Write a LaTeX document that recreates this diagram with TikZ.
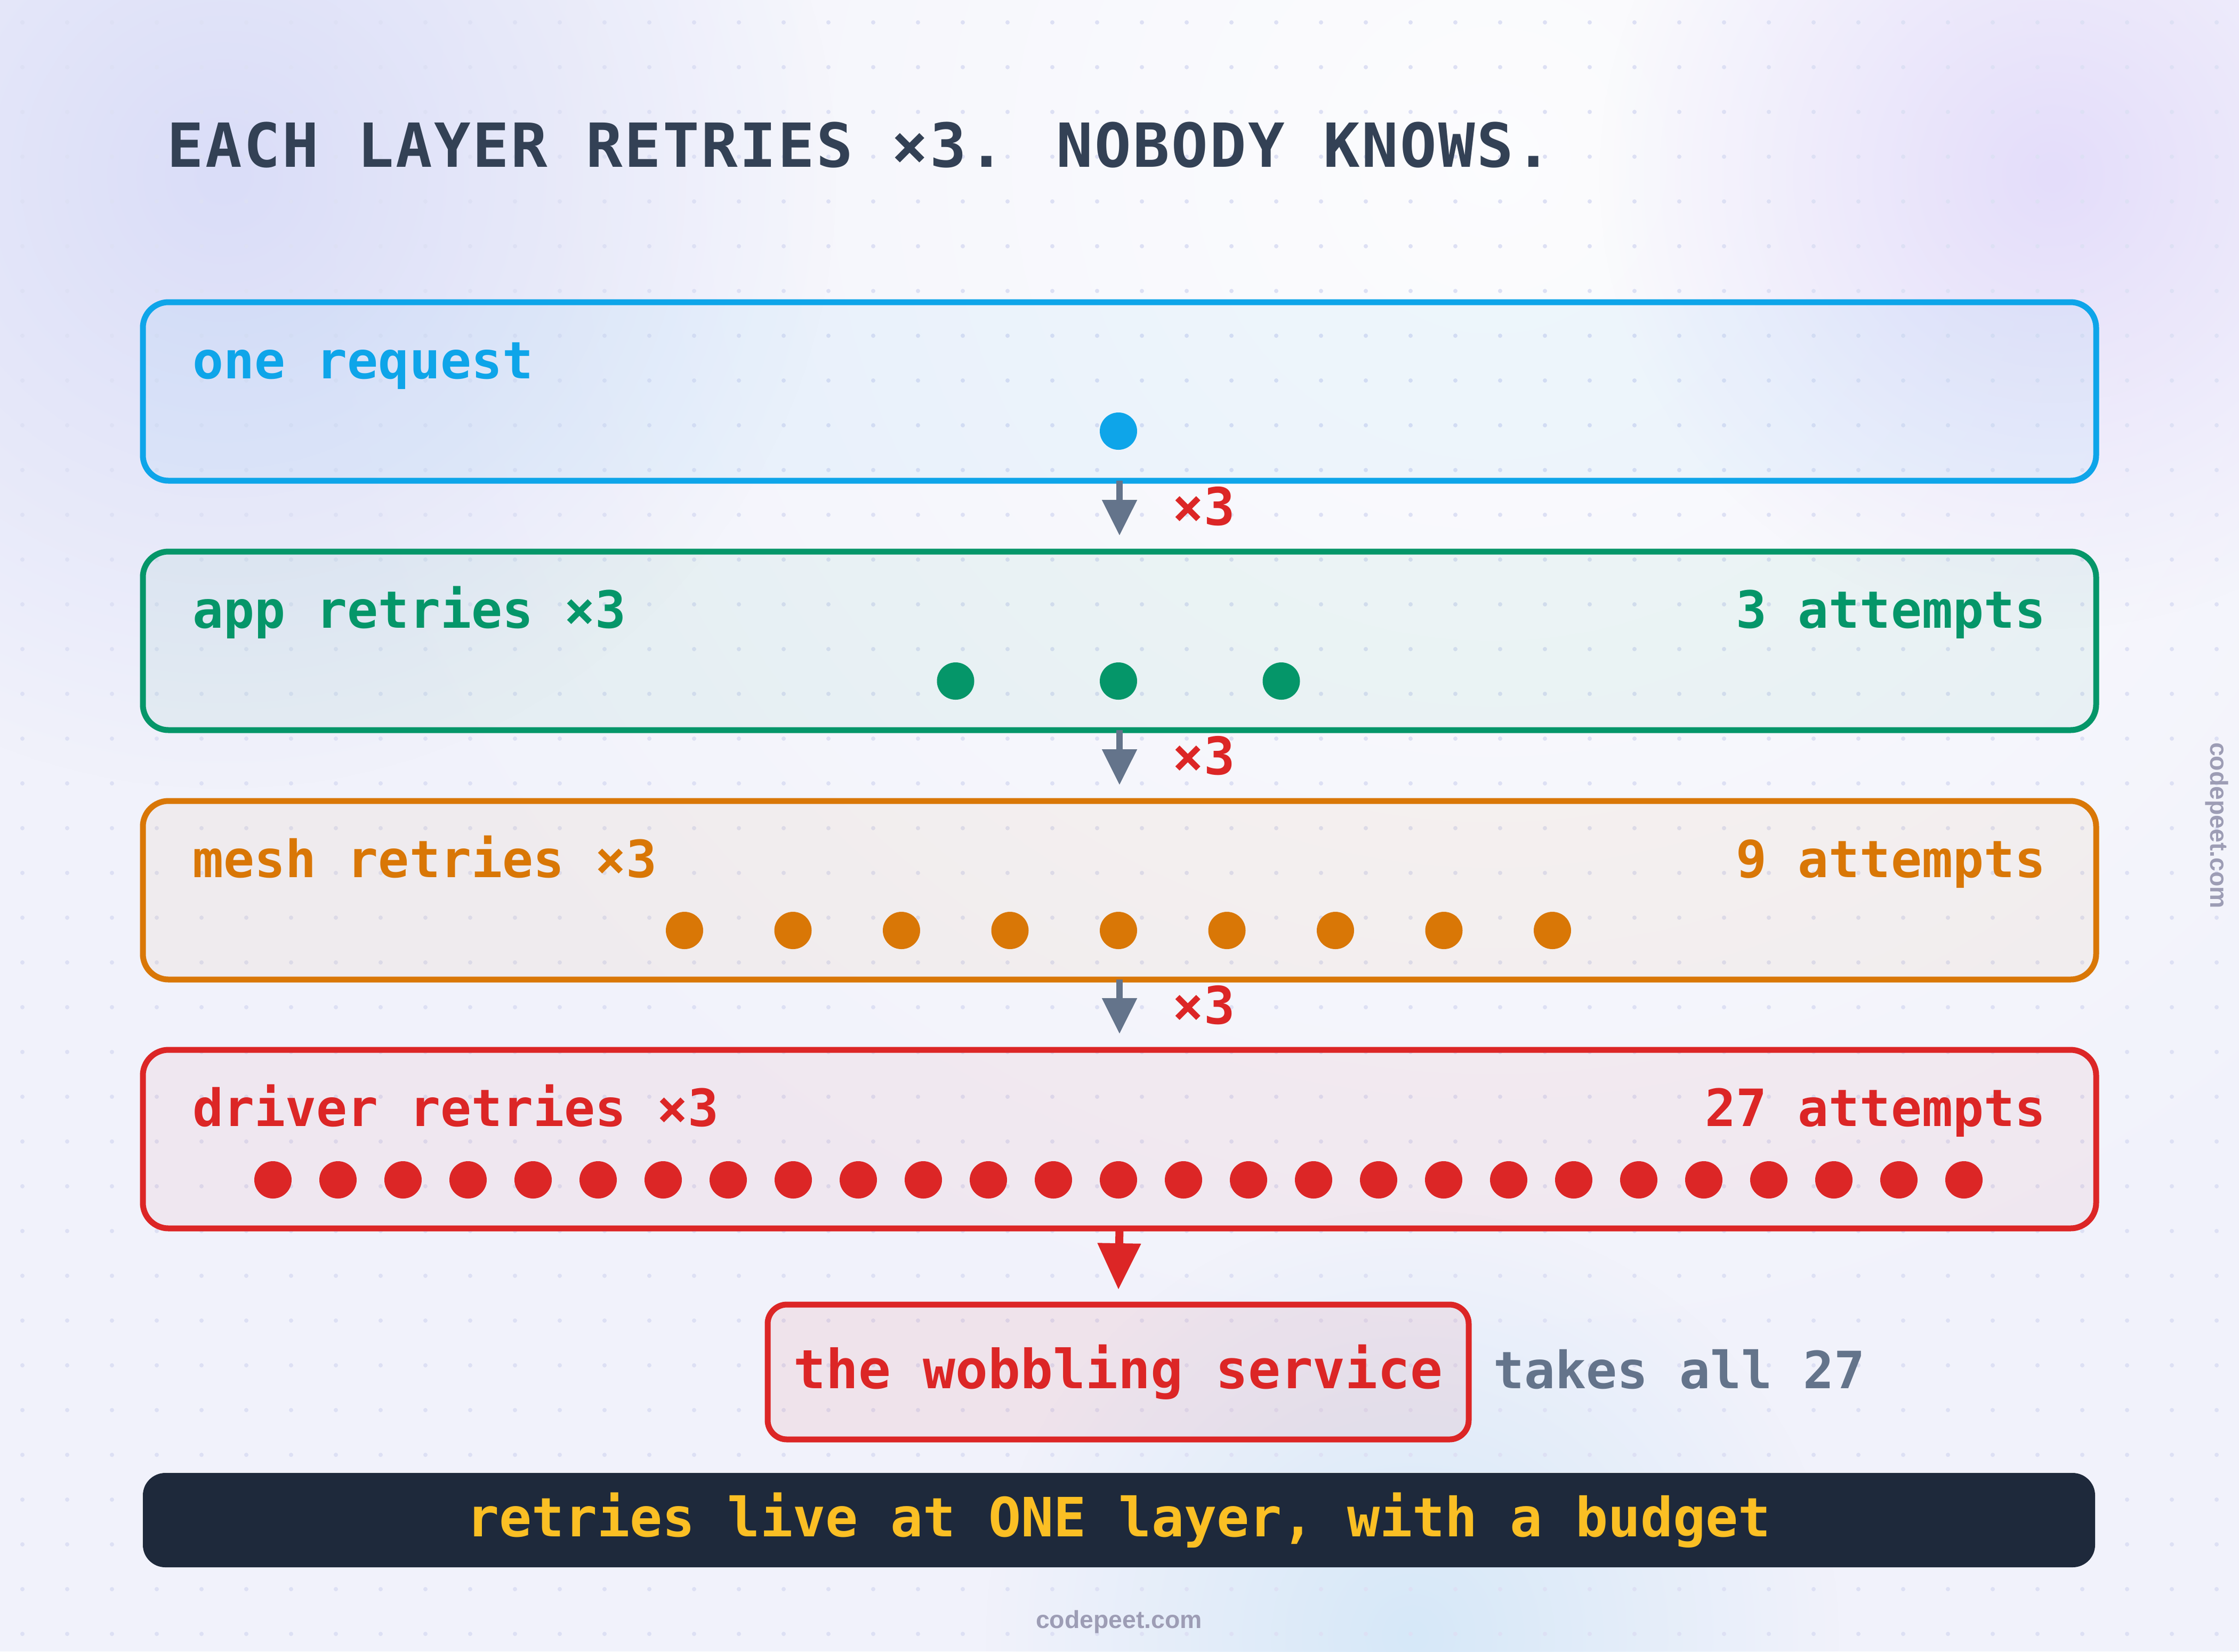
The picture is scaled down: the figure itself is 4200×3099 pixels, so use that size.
\documentclass[tikz,border=0pt]{standalone}
\usepackage{fontspec}
\setmainfont{DejaVu Sans Mono}
\newfontfamily\titlefont[LetterSpace=3.0]{DejaVu Sans Mono}
\newfontfamily\wmfont{Liberation Sans}
\usetikzlibrary{arrows.meta,fadings}
\definecolor{bgc}{HTML}{F1F2FB}
\definecolor{dotc}{HTML}{DDE0F4}
\definecolor{titlec}{HTML}{334155}
\definecolor{cblue}{HTML}{0EA5E9}
\definecolor{cgreen}{HTML}{059669}
\definecolor{corange}{HTML}{D97706}
\definecolor{cred}{HTML}{DC2626}
\definecolor{cslate}{HTML}{64748B}
\definecolor{cdark}{HTML}{1E293B}
\definecolor{cyellow}{HTML}{FBBF24}
\definecolor{cwm}{HTML}{9D9DB5}
\definecolor{blobl}{HTML}{DADDF8}
\definecolor{blobp}{HTML}{E4DDFA}
\definecolor{blobb}{HTML}{D6E8F8}
\tikzfading[name=softblob, inner color=transparent!0, outer color=transparent!100]
\tikzset{
  layerbox/.style={draw=#1, line width=2.75pt, rounded corners=12pt, fill=#1, fill opacity=0.05,
    minimum width=916pt, minimum height=83.75pt, inner sep=0pt, outer sep=0pt},
  lbl/.style={font=\bfseries\fontsize{24.1pt}{29pt}\selectfont, text=#1, inner sep=0pt},
  mult/.style={font=\bfseries\fontsize{24.3pt}{30pt}\selectfont, text=cred, inner sep=0pt, anchor=base west},
  flow/.style={draw=cslate, line width=3pt, -{Triangle[length=16.75pt,width=15.75pt]}, shorten >=7.5pt},
  redflow/.style={draw=cred, line width=3.75pt, -{Triangle[length=21.75pt,width=19.5pt]}, shorten >=7pt},
  wm/.style={font=\wmfont\bfseries\fontsize{11.6pt}{14pt}\selectfont, text=cwm, inner sep=0pt},
}
\begin{document}
\begin{tikzpicture}[x=0.25pt,y=-0.25pt]
\useasboundingbox (0,0) rectangle (4200,3099);
\fill[bgc] (0,0) rectangle (4200,3099);
% soft background blobs
\fill[white, opacity=0.8, path fading=softblob] (2800,300) circle (2400);
\fill[blobl, path fading=softblob] (420,330) circle (1150);
\fill[blobp, path fading=softblob] (3850,330) circle (850);
\fill[blobb, path fading=softblob] (2650,3070) circle (800);
% dot grid
\foreach \i in {0,...,49} {
  \foreach \j in {0,...,36} {
    \fill[dotc] (42+84*\i, 42+84*\j) circle (4);
  }
}
% title
\node[anchor=base west, inner sep=0pt, text=titlec, font=\titlefont\bfseries\fontsize{28.5pt}{34pt}\selectfont] (title) at (313,313) {EACH LAYER RETRIES ×3. NOBODY KNOWS.};
% layer boxes
\node[layerbox=cblue]   (L1) at (2100,734.5) {};
\node[layerbox=cgreen]  (L2) at (2100,1202.5) {};
\node[layerbox=corange] (L3) at (2100,1670.5) {};
\node[layerbox=cred]    (L4) at (2100,2137.5) {};
% labels
\node[lbl=cblue, anchor=base west] (t1) at (361,710) {one request};
\node[lbl=cgreen, anchor=base west] (t2) at (361,1178) {app retries ×3};
\node[lbl=cgreen, anchor=base east] (a2) at (3838,1178) {3 attempts};
\node[lbl=corange, anchor=base west] (t3) at (361,1646) {mesh retries ×3};
\node[lbl=corange, anchor=base east] (a3) at (3838,1646) {9 attempts};
\node[lbl=cred, anchor=base west] (t4) at (361,2113) {driver retries ×3};
\node[lbl=cred, anchor=base east] (a4) at (3838,2113) {27 attempts};
% dots
\fill[cblue] (2098,809) circle (35);
\foreach \k in {-1,...,1} \fill[cgreen] (2098+305.5*\k,1278) circle (35);
\foreach \k in {-4,...,4} \fill[corange] (2098+203.5*\k,1746) circle (35);
\foreach \k in {-13,...,13} \fill[cred] (2098+122*\k,2214) circle (35);
% arrows
\draw[flow] (L1.south) -- (L2.north);
\draw[flow] (L2.south) -- (L3.north);
\draw[flow] (L3.south) -- (L4.north);
\node[mult] (m1) at (2199,985) {×3};
\node[mult] (m2) at (2199,1453) {×3};
\node[mult] (m3) at (2199,1921) {×3};
% service
\node[draw=cred, line width=2.75pt, rounded corners=9pt, fill=cred, fill opacity=0.07, text opacity=1,
  minimum width=328.75pt, minimum height=63.25pt, inner sep=0pt, outer sep=0pt, text=cred,
  font=\bfseries\fontsize{25.3pt}{30pt}\selectfont] (svc) at (2097.5,2574.5) {the wobbling service};
\draw[redflow] (L4.south) -- (svc.north);
\node[lbl=cslate, anchor=base west] (takes) at (2801,2605) {takes all 27};
% bottom bar
\node[fill=cdark, rounded corners=10.5pt, minimum width=915.5pt, minimum height=44.25pt, inner sep=0pt,
  text=cyellow, font=\bfseries\fontsize{25.4pt}{30pt}\selectfont] (bar) at (2099,2852.5) {retries live at ONE layer, with a budget};
% watermarks
\node[wm, rotate=-90] (wm1) at (4158,1549) {codepeet.com};
\node[wm] (wm2) at (2099,3043) {codepeet.com};
\end{tikzpicture}
\end{document}
